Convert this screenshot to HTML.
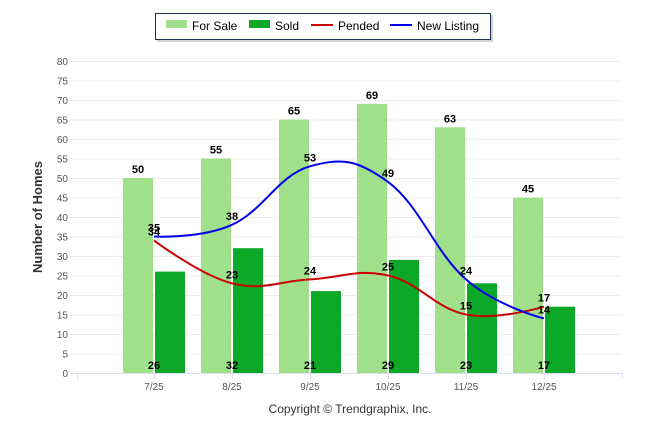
<!DOCTYPE html>
<html><head><meta charset="utf-8"><style>
body{margin:0;background:#fff;}
svg{display:block;font-family:"Liberation Sans",sans-serif;}
</style></head><body>
<svg id="c" width="646" height="434">
<g>
<rect x="157" y="15" width="336" height="27" fill="#aaa" opacity="0.5"/>
<rect x="155.5" y="13.5" width="335" height="26" fill="#fff" stroke="#1f2e4f" stroke-width="1"/>
<g><rect x="166" y="20" width="21" height="8" fill="#a0e08a"/><text x="192" y="30" font-size="12">For Sale</text></g>
<g><rect x="249" y="20" width="21" height="8" fill="#0ca828"/><text x="275" y="30" font-size="12">Sold</text></g>
<g><line x1="311" y1="25" x2="333" y2="25" stroke="#cc0000" stroke-width="2"/><text x="338" y="30" font-size="12">Pended</text></g>
<g><line x1="390" y1="25" x2="412" y2="25" stroke="#0000ee" stroke-width="2"/><text x="417" y="30" font-size="12">New Listing</text></g>
</g>
<text x="0" y="0" transform="translate(42,217) rotate(-90)" text-anchor="middle" font-size="13" font-weight="bold" fill="#333">Number of Homes</text>
<text x="350" y="413" text-anchor="middle" font-size="12" fill="#333">Copyright © Trendgraphix, Inc.</text>
<g id="grid"></g><g id="bars"></g><g id="lines"></g><g id="labels"></g>
</svg>
<script>
const categories=["7/25","8/25","9/25","10/25","11/25","12/25"];
const forSale=[50,55,65,69,63,45];
const sold=[26,32,21,29,23,17];
const pended=[34,23,24,25,15,17];
const newListing=[35,38,53,49,24,14];
const yTicks=[0,5,10,15,20,25,30,35,40,45,50,55,60,65,70,75,80];
const NS="http://www.w3.org/2000/svg";
const X0=77,X1=622,Y0=373,YTOP=61;
const y=v=>Y0-(v/80)*(Y0-YTOP);
const x=i=>154+i*78;
function mk(tag,attrs,parent,txt){const e=document.createElementNS(NS,tag);for(const k in attrs)e.setAttribute(k,attrs[k]);if(txt!==undefined)e.textContent=txt;document.getElementById(parent).appendChild(e);return e;}
yTicks.forEach(t=>{
 const l=mk('line',{x1:70,x2:X1,y1:y(t)+0.5,y2:y(t)+0.5,stroke:t===0?'#dde':'#ececec','stroke-width':1},'grid');
 
 
 const tx=mk('text',{x:68,y:y(t)+4,'text-anchor':'end','font-size':10,fill:'#555'},'grid',t);
 
 
});
mk('line',{x1:X0+0.5,x2:X0+0.5,y1:Y0,y2:Y0+6,stroke:'#dde'},'grid');
mk('line',{x1:X1+0.5,x2:X1+0.5,y1:Y0,y2:Y0+6,stroke:'#dde'},'grid');
categories.forEach((c,i)=>{
 mk('line',{x1:x(i)+0.5,x2:x(i)+0.5,y1:Y0,y2:Y0+6,stroke:'#dde'},'grid');
 const t=mk('text',{x:x(i),y:Y0+17,'text-anchor':'middle','font-size':10,fill:'#555'},'grid',c);
 
 
 const b1=mk('rect',{x:x(i)-31,y:y(forSale[i]),width:30,height:Y0-y(forSale[i]),fill:'#a0e08a'},'bars');
 
 
 const b2=mk('rect',{x:x(i)+1,y:y(sold[i]),width:30,height:Y0-y(sold[i]),fill:'#0ca828'},'bars');
 
 
 const l1=mk('text',{x:x(i)-16,y:y(forSale[i])-5,'text-anchor':'middle','font-size':11,'font-weight':'bold'},'labels',forSale[i]);
 
 
 const l2=mk('text',{x:x(i),y:Y0-4,'text-anchor':'middle','font-size':11,'font-weight':'bold'},'labels',sold[i]);
 
 
});
function spline(vals){
 const p=vals.map((v,i)=>[x(i),y(v)]);
 let d='M'+p[0][0]+','+p[0][1];
 const ctl=p.map((pt,i)=>{
  if(i===0||i===p.length-1)return null;
  const l=p[i-1],r=p[i+1],s=1.5,den=s+1;
  let lx=(s*pt[0]+l[0])/den,ly=(s*pt[1]+l[1])/den,rx=(s*pt[0]+r[0])/den,ry=(s*pt[1]+r[1])/den;
  if(ry!==ly){const corr=((ry-ly)*(rx-pt[0]))/(rx-lx)+pt[1]-ry;ly+=corr;ry+=corr;}
  return {lx,ly,rx,ry};
 });
 for(let i=1;i<p.length;i++){
  const a=ctl[i-1]?[ctl[i-1].rx,ctl[i-1].ry]:p[i-1];
  const b=ctl[i]?[ctl[i].lx,ctl[i].ly]:p[i];
  d+=' C'+a[0]+','+a[1]+' '+b[0]+','+b[1]+' '+p[i][0]+','+p[i][1];
 }
 return d;
}
const pl=mk('path',{d:spline(pended),fill:'none',stroke:'#cc0000','stroke-width':2},'lines');


const nl=mk('path',{d:spline(newListing),fill:'none',stroke:'#0000ee','stroke-width':2},'lines');


categories.forEach((c,i)=>{
 const a=mk('text',{x:x(i),y:y(pended[i])-5,'text-anchor':'middle','font-size':11,'font-weight':'bold'},'labels',pended[i]);
 
 
 const b=mk('text',{x:x(i),y:y(newListing[i])-5,'text-anchor':'middle','font-size':11,'font-weight':'bold'},'labels',newListing[i]);
 
 
});
</script>
</body></html>
